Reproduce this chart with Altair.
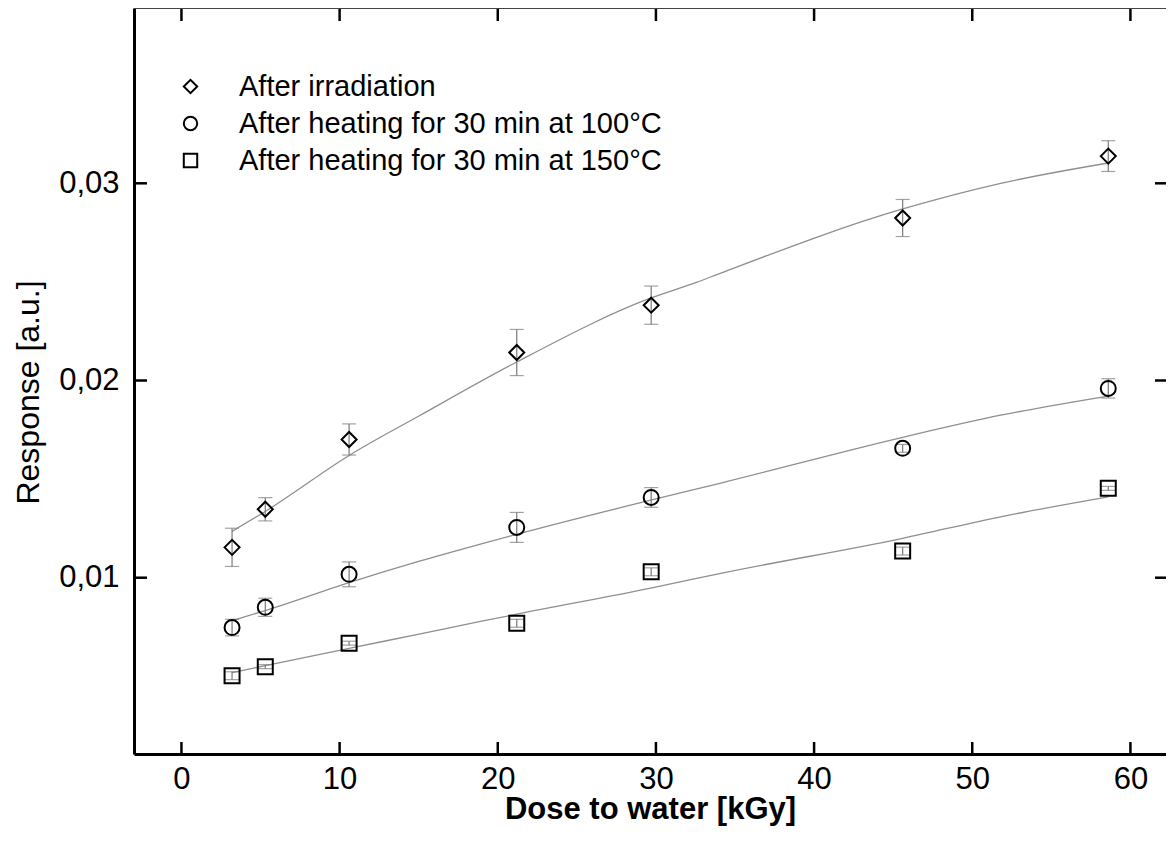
import altair as alt
import pandas as pd

# ---- data ----
series = ["After irradiation",
          "After heating for 30 min at 100°C",
          "After heating for 30 min at 150°C"]

dose = [3.2, 5.3, 10.6, 21.2, 29.7, 45.6, 58.6]
resp_irr = [0.01154, 0.01347, 0.01701, 0.02142, 0.02382, 0.02824, 0.03138]
err_irr = [0.00097, 0.00059, 0.00079, 0.00117, 0.00097, 0.00094, 0.00078]
resp_100 = [0.00747, 0.00850, 0.01017, 0.01255, 0.01407, 0.01656, 0.01960]
err_100 = [0.00042, 0.00046, 0.00063, 0.00076, 0.00050, 0.00020, 0.00049]
resp_150 = [0.00503, 0.00549, 0.00668, 0.00769, 0.01030, 0.01135, 0.01453]
err_150 = [0.00020, 0.00010, 0.00010, 0.00020, 0.00020, 0.00020, 0.00010]

fit_x_irr = [3.2, 5.3, 10.6, 15.1, 21.2, 29.6, 32.6, 34.1, 45.6, 51.8, 58.6]
fit_irr = [0.01235, 0.01336, 0.01620, 0.01824, 0.02094, 0.02416, 0.02499,
           0.02545, 0.02870, 0.03000, 0.03103]
fit_x_100 = [3.2, 5.3, 10.6, 15.1, 18.9, 21.2, 29.6, 34.1, 45.6, 51.8, 58.6]
fit_100 = [0.00782, 0.00833, 0.00975, 0.01085, 0.01170, 0.01220, 0.01392,
           0.01480, 0.01712, 0.01824, 0.01921]
fit_x_150 = [3.2, 5.3, 10.6, 15.1, 18.9, 21.2, 29.6, 34.1, 45.6, 51.8, 58.6]
fit_150 = [0.00519, 0.00554, 0.00642, 0.00715, 0.00778, 0.00815, 0.00946,
           0.01022, 0.01200, 0.01309, 0.01410]

x_ticks = [0, 10, 20, 30, 40, 50, 60]
y_ticks = [0.01, 0.02, 0.03]

# ---- tables ----
rows = []
for name, vals, errs in zip(series, [resp_irr, resp_100, resp_150],
                            [err_irr, err_100, err_150]):
    for d, v, e in zip(dose, vals, errs):
        rows.append({"series": name, "dose": d, "resp": v,
                     "lo": v - e, "hi": v + e})
pts = pd.DataFrame(rows)

frows = []
for name, xs, ys in zip(series, [fit_x_irr, fit_x_100, fit_x_150],
                        [fit_irr, fit_100, fit_150]):
    for d, v in zip(xs, ys):
        frows.append({"series": name, "dose": d, "resp": v})
fits = pd.DataFrame(frows)

xt = pd.DataFrame({"dose": x_ticks})
yt = pd.DataFrame({"resp": y_ticks})

W, H = 1032, 746
FONT = "Liberation Sans"

xscale = alt.Scale(domain=[-3, 62.25], nice=False, zero=False)
yscale = alt.Scale(domain=[0.00106, 0.03889], nice=False, zero=False)

xaxis = alt.Axis(values=x_ticks, ticks=False, grid=False, domainColor="black",
                 domainWidth=3, labelFontSize=31, labelFont=FONT,
                 labelColor="black", labelPadding=10,
                 titleFont=FONT, titleFontSize=31, titleFontWeight="bold",
                 titleColor="black", titleBaseline="middle", titleY=55)
yaxis = alt.Axis(values=y_ticks, ticks=False, grid=False, domainColor="black",
                 domainWidth=3, labelFontSize=31, labelFont=FONT,
                 labelColor="black", labelPadding=15,
                 labelExpr="replace(format(datum.value, '.2f'), '.', ',')",
                 titleFont=FONT, titleFontSize=32, titleFontWeight="normal",
                 titleColor="black", titleBaseline="middle", titleX=-106,
                 titleY=384, titleAngle=-90)

XT = "Dose to water [kGy]"
YT = "Response [a.u.]"


def X(field="dose"):
    return alt.X(f"{field}:Q", scale=xscale, axis=xaxis, title=XT)


def Y(field="resp"):
    return alt.Y(f"{field}:Q", scale=yscale, axis=yaxis, title=YT)


fit_lines = alt.Chart(fits).mark_line(
    color="#8f8f8f", strokeWidth=1.3, interpolate="monotone"
).encode(x=X(), y=Y(), detail="series:N")

err_rules = alt.Chart(pts).mark_rule(color="#7a7a7a", strokeWidth=1.2).encode(
    x=X(), y=Y("lo"), y2="hi:Q")

cap_lo = alt.Chart(pts).mark_tick(
    color="#7a7a7a", thickness=1.2, size=14, orient="horizontal"
).encode(x=X(), y=Y("lo"))
cap_hi = alt.Chart(pts).mark_tick(
    color="#7a7a7a", thickness=1.2, size=14, orient="horizontal"
).encode(x=X(), y=Y("hi"))

points = alt.Chart(pts).mark_point(
    filled=False, strokeWidth=2, color="black", size=225, opacity=1
).encode(
    x=X(), y=Y(),
    shape=alt.Shape("series:N",
                    scale=alt.Scale(domain=series,
                                    range=["diamond", "circle", "square"]),
                    legend=alt.Legend(title=None, orient="none",
                                      legendX=42, legendY=64, labelLimit=0,
                                      labelOffset=34, rowPadding=7,
                                      symbolSize=180, symbolStrokeWidth=2,
                                      labelFontSize=29, labelFont=FONT,
                                      labelColor="black")),
)

bottom_ticks = alt.Chart(xt).mark_rule(color="black", strokeWidth=2.5).encode(
    x=X(), y=alt.value(H), y2=alt.value(H - 12))
top_ticks = alt.Chart(xt).mark_rule(color="black", strokeWidth=2.5).encode(
    x=X(), y=alt.value(0), y2=alt.value(13))
left_ticks = alt.Chart(yt).mark_rule(color="black", strokeWidth=2.5).encode(
    y=Y(), x=alt.value(0), x2=alt.value(13))
right_ticks = alt.Chart(yt).mark_rule(color="black", strokeWidth=2.5).encode(
    y=Y(), x=alt.value(W), x2=alt.value(W - 11))
top_line = alt.Chart(xt).mark_rule(color="#444444", strokeWidth=1.2).encode(
    x=alt.value(0), x2=alt.value(W), y=alt.value(0.5))

chart = alt.layer(
    fit_lines, err_rules, cap_lo, cap_hi, points,
    bottom_ticks, top_ticks, left_ticks, right_ticks, top_line
).properties(
    width=W, height=H, background="white",
    padding={"left": 126, "top": 0, "right": 0, "bottom": 74},
    autosize=alt.AutoSizeParams(type="none"),
).configure_view(stroke=None)

chart.save("out.html", embed_options={"renderer": "svg", "actions": False})
